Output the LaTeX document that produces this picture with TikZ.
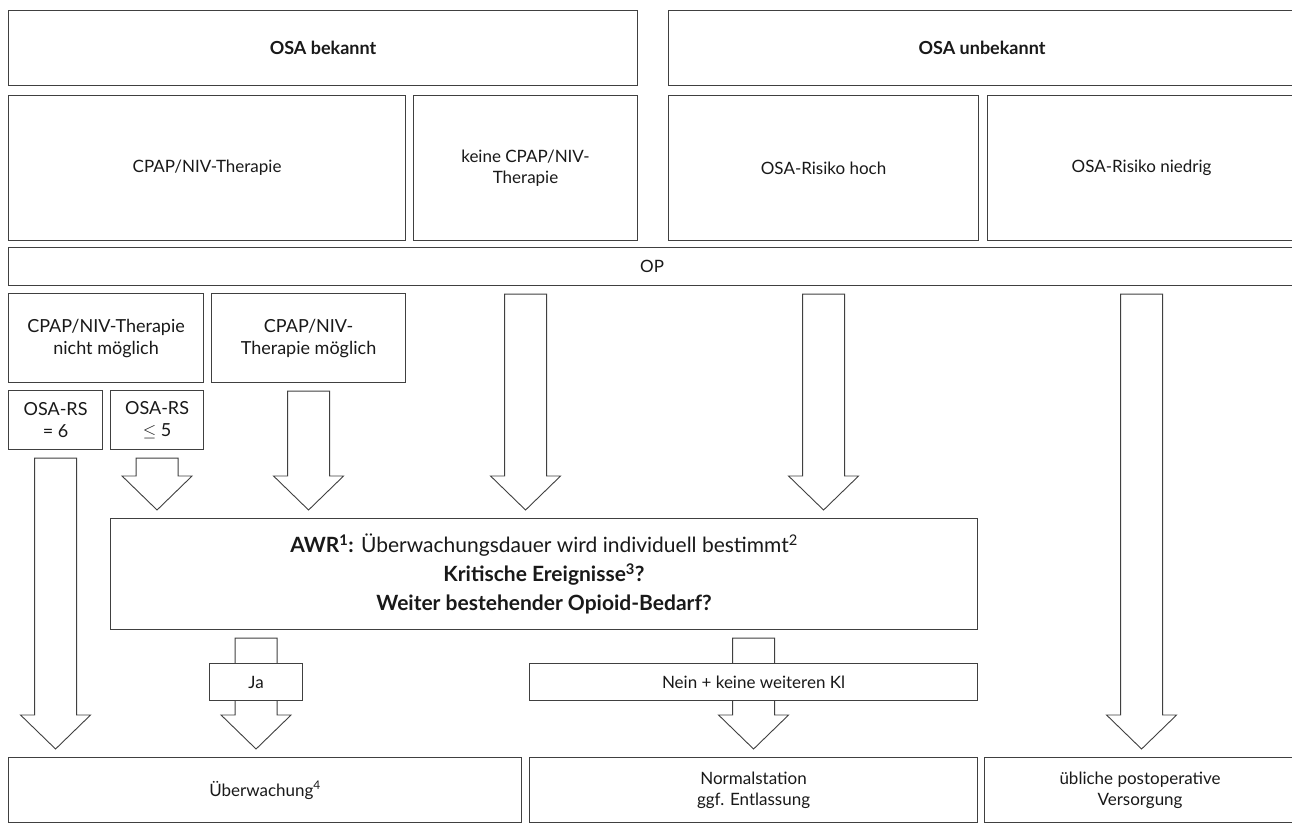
\documentclass[tikz,border=0pt]{standalone}
\usepackage{fontspec}
\setmainfont{Lato}
\usetikzlibrary{calc}
\pgfdeclarelayer{bg}
\pgfsetlayers{bg,main}
\tikzset{
 box/.style={draw=black!75, line width=1.1pt, fill=white, inner sep=0pt, align=center, text=black!90, font=\fontsize{17}{21}\selectfont},
 barrow/.style={draw=black!75, line width=0.9pt, fill=white, line join=miter},
}
\newcommand\bx[7][]{\node[box,#1,anchor=north west,minimum width={#5-#3},minimum height={#6-#4}] (#2) at (#3,#4) {#7};}
\newcommand\blk[2]{%
 \begin{pgfonlayer}{bg}
 \draw[barrow] let \p1=(#1), \p2=(#2) in
  (\x1-21pt,\y1-8pt) -- (\x1-21pt,\y2+42pt) -- (\x1-35pt,\y2+42pt) -- (\x1,\y2+8pt) -- (\x1+35pt,\y2+42pt) -- (\x1+21pt,\y2+42pt) -- (\x1+21pt,\y1-8pt) -- cycle;
 \end{pgfonlayer}}
\begin{document}
\begin{tikzpicture}[x=1pt,y=-1pt]
\useasboundingbox (0,0) rectangle (1292,825);
\bx[font=\fontsize{18}{21}\selectfont]{osab}{8}{10}{637}{85}{\bfseries OSA bekannt}
\bx[font=\fontsize{18}{21}\selectfont]{osau}{668}{10}{1295}{85}{\bfseries OSA unbekannt}
\bx{cpap}{8}{95}{405}{240}{CPAP/NIV-Therapie}
\bx{keine}{413}{95}{637}{240}{keine CPAP/NIV-\\Therapie}
\bx{hoch}{668}{95}{978}{240}{OSA-Risiko hoch}
\bx{niedrig}{987}{95}{1295}{240}{OSA-Risiko niedrig}
\bx{op}{8}{247}{1295}{285}{OP}
\bx[font=\fontsize{18}{22}\selectfont]{nicht}{8}{293}{203}{382}{CPAP/NIV-Therapie\\nicht möglich}
\bx[font=\fontsize{18}{22}\selectfont]{moegl}{211}{293}{405}{382}{CPAP/NIV-\\Therapie möglich}
\bx[font=\fontsize{18}{22}\selectfont]{rs6}{8}{390}{102}{449}{OSA-RS\\= 6}
\bx[font=\fontsize{18}{22}\selectfont]{rs5}{110}{390}{203}{449}{OSA-RS\\$\leq$ 5}
\bx[font=\fontsize{21}{29}\selectfont]{awr}{110}{518}{977}{629}{{\bfseries AWR\textsuperscript{1}:} Überwachungsdauer wird individuell bestimmt\textsuperscript{2}\\{\bfseries Kritische Ereignisse\textsuperscript{3}?}\\{\bfseries Weiter bestehender Opioid-Bedarf?}}
\bx{ja}{209}{663}{302}{700}{Ja}
\bx{nein}{529}{663}{977}{700}{Nein + keine weiteren Kl}
\bx{ueberw}{8}{757}{521}{822}{Überwachung\textsuperscript{4}}
\bx{normal}{529}{757}{977}{822}{Normalstation\\ggf. Entlassung}
\bx{ueblich}{984}{757}{1295}{822}{übliche postoperative\\Versorgung}
\blk{rs6.south}{ueberw.north}
\blk{rs5.south}{awr.north}
\blk{moegl.south}{awr.north}
\blk{keine.south |- op.south}{awr.north}
\blk{hoch.south |- op.south}{awr.north}
\blk{niedrig.south |- op.south}{ueblich.north}
\blk{ja.north |- awr.south}{ueberw.north}
\blk{normal.north |- awr.south}{normal.north}
\end{tikzpicture}
\end{document}
